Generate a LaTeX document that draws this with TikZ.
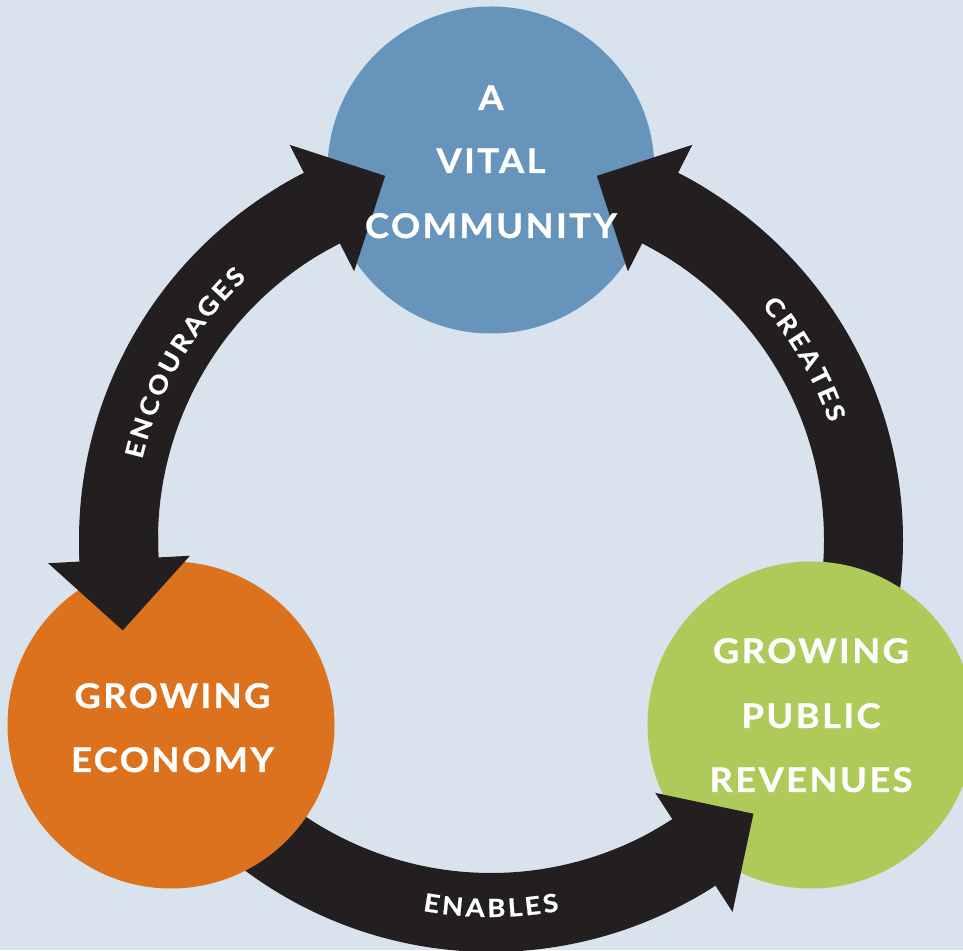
\documentclass[tikz,border=0pt]{standalone}
\usepackage{fontspec}
\setmainfont{Lato}
\newfontfamily\circfont[LetterSpace=7,FakeBold=0.8,FakeStretch=1.07]{Lato}
\newfontfamily\arcfont[FakeBold=0.8,FakeStretch=1.1]{Lato}
\usetikzlibrary{decorations.text}
\definecolor{bg}{HTML}{D8E3EE}
\definecolor{blueC}{HTML}{6694BA}
\definecolor{orangeC}{HTML}{DC721D}
\definecolor{greenC}{HTML}{AECB5A}
\definecolor{arrowC}{HTML}{231F20}
\newcommand{\ringshaft}[2]{%
  \fill[arrowC] ([shift={(C)}]#1:412) arc[start angle=#1,end angle=#2,radius=412]
    -- ([shift={(C)}]#2:333) arc[start angle=#2,end angle=#1,radius=333] -- cycle;}
\newcommand{\ringhead}[2]{%
  \fill[arrowC] ([shift={(C)}]#1:443.5) -- ([shift={(C)}]{#1+#2*10.79}:379.2)
    -- ([shift={(C)}]#1:301.5) -- ([shift={(C)}]#1:333)
    arc[start angle=#1,end angle={#1-#2*4},radius=333]
    -- ([shift={(C)}]{#1-#2*4}:412)
    arc[start angle={#1-#2*4},end angle=#1,radius=412] -- cycle;}
\tikzset{
  bubble/.style={circle,inner sep=0pt,minimum size=327pt},
  bubtext/.style={anchor=base,text=white,font=\circfont\bfseries\fontsize{34}{34}\selectfont,inner sep=0pt},
  arclabel/.style={decorate,decoration={text along path,text align=center,
     text={|\arcfont\bfseries\fontsize{25}{25}\selectfont\color{white}|#1}}}
}
\begin{document}
\begin{tikzpicture}[x=1pt,y=1pt]
\fill[bg] (0,0) rectangle (963,950);
\useasboundingbox (0,0) rectangle (963,950);
\coordinate (C) at (491,410);
% shafts
\ringshaft{117}{183}
\ringshaft{-30}{63}
\ringshaft{210}{303}
% circles
\node[bubble,fill=blueC] (comm) at (491,780) {};
\node[bubble,fill=orangeC] (econ) at (171,225) {};
\node[bubble,fill=greenC] (rev) at (811,225) {};
% heads
\ringhead{117}{-1}
\ringhead{183}{1}
\ringhead{63}{1}
\ringhead{303}{1}
% circle texts
\node[bubtext] (tA) at (491,840) {A};
\node[bubtext] (tVital) at (491,777) {VITAL};
\node[bubtext] (tComm) at (491,712) {COMMUNITY};
\node[bubtext] (tGrow1) at (172.5,242) {GROWING};
\node[bubtext] (tEcon) at (172.5,178) {ECONOMY};
\node[bubtext] (tGrow2) at (811,287) {GROWING};
\node[bubtext] (tPub) at (811,222) {PUBLIC};
\node[bubtext] (tRev) at (811,158) {REVENUES};
% arc labels
\path[arclabel={{E\kern3pt}{N\kern3pt}{C\kern3pt}{O\kern3pt}{U\kern3pt}{R\kern3pt}{A\kern3pt}{G\kern3pt}{E\kern3pt}S}] ([shift={(C)}]183:358) arc[start angle=183,end angle=117,radius=358];
\path[arclabel={{C\kern3pt}{R\kern3pt}{E\kern3pt}{A\kern3pt}{T\kern3pt}{E\kern3pt}S}] ([shift={(C)}]60:358) arc[start angle=60,end angle=0,radius=358];
\path[arclabel={{E\kern3pt}{N\kern3pt}{A\kern3pt}{B\kern3pt}{L\kern3pt}{E\kern3pt}S}] ([shift={(C)}]240:377) arc[start angle=240,end angle=300,radius=377];
\end{tikzpicture}
\end{document}
